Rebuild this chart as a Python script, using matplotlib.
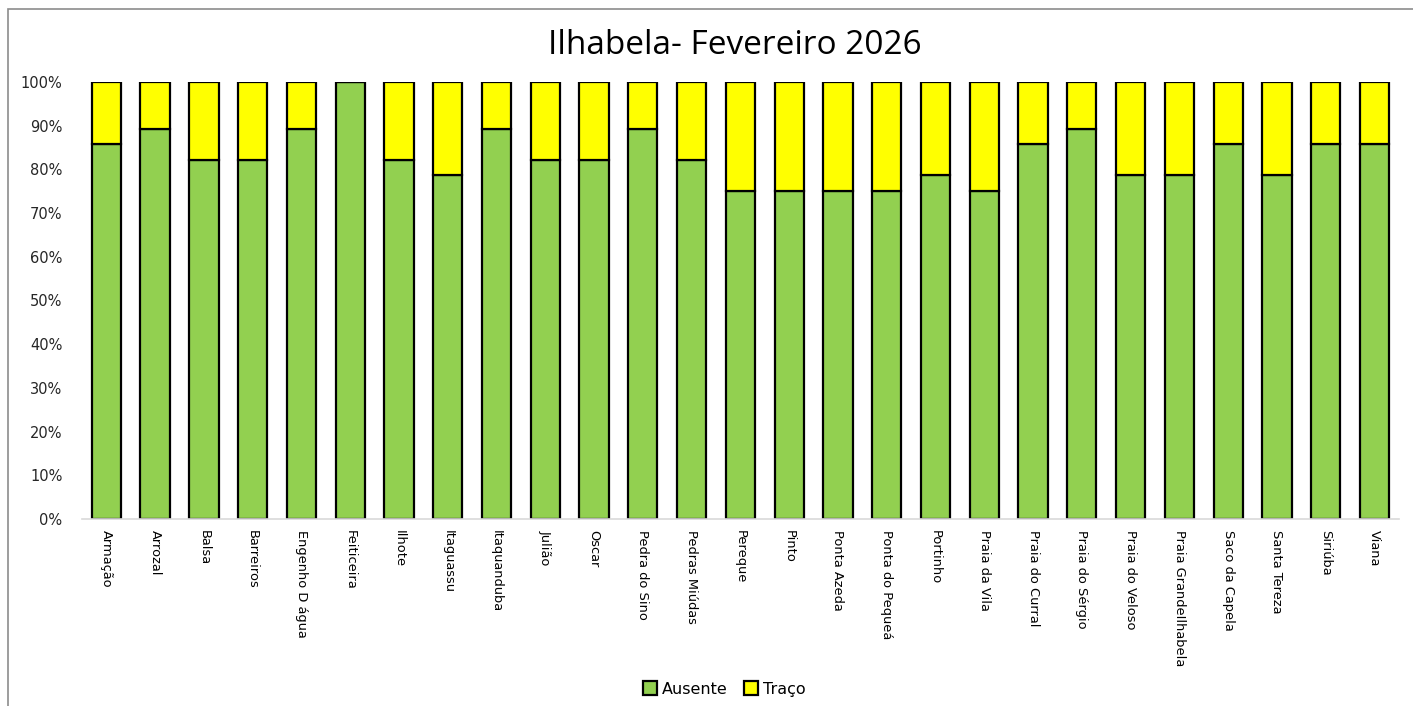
import matplotlib
matplotlib.use("Agg")
import matplotlib.pyplot as plt
from matplotlib.patches import Rectangle
from matplotlib.ticker import PercentFormatter

locais = ["Armação", "Arrozal", "Balsa", "Barreiros", "Engenho D água", "Feiticeira",
          "Ilhote", "Itaguassu", "Itaquanduba", "Julião", "Oscar", "Pedra do Sino",
          "Pedras Miúdas", "Pereque", "Pinto", "Ponta Azeda", "Ponta do Pequeá",
          "Portinho", "Praia da Vila", "Praia do Curral", "Praia do Sérgio",
          "Praia do Veloso", "Praia GrandeIlhabela", "Saco da Capela", "Santa Tereza",
          "Siriúba", "Viana"]
ausente = [85.7, 89.3, 82.1, 82.1, 89.3, 100.0, 82.1, 78.6, 89.3, 82.1, 82.1, 89.3,
           82.1, 75.0, 75.0, 75.0, 75.0, 78.6, 75.0, 85.7, 89.3, 78.6, 78.6, 85.7,
           78.6, 85.7, 85.7]
traco = [14.3, 10.7, 17.9, 17.9, 10.7, 0.0, 17.9, 21.4, 10.7, 17.9, 17.9, 10.7,
         17.9, 25.0, 25.0, 25.0, 25.0, 21.4, 25.0, 14.3, 10.7, 21.4, 21.4, 14.3,
         21.4, 14.3, 14.3]

fig = plt.figure(figsize=(14.13, 7.06), dpi=100)
ax = fig.add_axes([0.058, 0.2649, 0.932, 0.619])

x = range(len(locais))
ax.bar(x, ausente, width=0.6, color="#92D050", edgecolor="black", linewidth=1.6,
       label="Ausente", zorder=2)
ax.bar(x, traco, width=0.6, bottom=ausente, color="#FFFF00", edgecolor="black",
       linewidth=1.6, label="Traço", zorder=2)

ax.set_xlim(-0.5, len(locais) - 0.5)
ax.set_ylim(0, 100)
ax.set_yticks(range(0, 101, 10))
ax.yaxis.set_major_formatter(PercentFormatter(decimals=0))
ax.set_xticks(list(x))
ax.set_xticklabels(locais, rotation=-90, fontsize=9.4,
                   family=["Liberation Sans Narrow", "DejaVu Sans"], va="top", ha="center")
for lbl in ax.get_yticklabels():
    lbl.set_fontsize(10.5)
    lbl.set_color("#262626")
ax.tick_params(axis="both", length=0)
ax.tick_params(axis="y", pad=14)
ax.tick_params(axis="x", pad=8)

for s in ["top", "right", "left"]:
    ax.spines[s].set_visible(False)
ax.spines["bottom"].set_color("#d9d9d9")
ax.spines["bottom"].set_linewidth(1.2)

fig.text(0.52, 0.936, "Ilhabela- Fevereiro 2026", ha="center", va="center",
         fontsize=24, family="Open Sans", color="#000000")

leg = fig.legend(loc="center", bbox_to_anchor=(0.5125, 0.024), ncol=2, frameon=False,
                 fontsize=11.5, handlelength=0.9, handleheight=0.9, columnspacing=1.0,
                 handletextpad=0.3)

# outer chart frame
fig.patches.append(Rectangle((8 / 1413, -0.1), 1.2, 1 - 9 / 706 + 0.1,
                             transform=fig.transFigure, fill=False,
                             edgecolor="#8c8c8c", linewidth=1.2))

fig.savefig("out.png", dpi=100)
